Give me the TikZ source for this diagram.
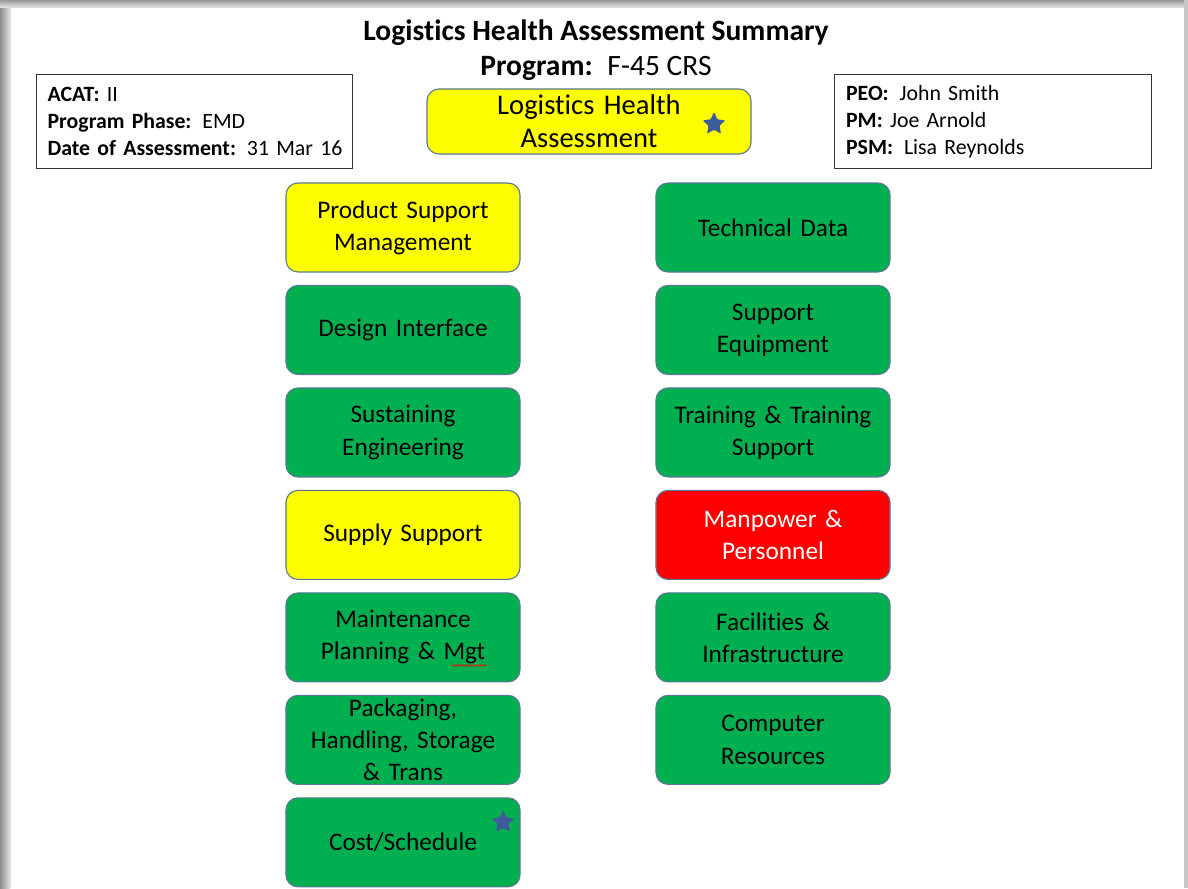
\documentclass[tikz,border=0pt]{standalone}
\usepackage{fontspec}
\setmainfont{Carlito}[Ligatures = {NoCommon, NoContextual, NoRequired}]
\usetikzlibrary{positioning,shapes.geometric,decorations.pathmorphing}

\definecolor{lhagreen}{RGB}{0,176,80}
\definecolor{lhayellow}{RGB}{255,255,0}
\definecolor{lhared}{RGB}{255,0,0}
\definecolor{lhaedge}{HTML}{5A7896}
\definecolor{lhastar}{HTML}{3D5A9A}

\begin{document}
\begin{tikzpicture}[
  x = 0.025cm, y = -0.025cm,
  node distance = 0.308cm,
  element/.style = {draw = lhaedge, line width = 0.8pt, rounded corners = 0.3cm,
                    minimum width = 5.85cm, minimum height = 2.225cm,
                    text width = 5.6cm, align = center, inner xsep = 0.1cm,
                    inner ysep = 0pt, font = \fontsize{18}{22.8}\selectfont},
  okbox/.style = {element, fill = lhagreen},
  warnbox/.style = {element, fill = lhayellow},
  failbox/.style = {element, fill = lhared, text = white},
  infobox/.style = {draw = black!80, line width = 0.9pt, anchor = north west,
                    minimum height = 2.35cm, text width = 7.35cm, align = left,
                    inner xsep = 0.275cm, inner ysep = 0pt,
                    font = \fontsize{15.5}{19.2}\selectfont},
  starmark/.style = {star, star points = 5, star point ratio = 2.1,
                     minimum size = 0.6cm, inner sep = 0pt, fill = lhastar,
                     rounded corners = 0.8pt},
  squiggle/.style = {red, line width = 0.5pt,
                     decorate, decoration = {snake, amplitude = 0.6pt, segment length = 2.5pt}}
  ]
  \useasboundingbox (0,0) rectangle (1188,888);

  %page and its shadow
  \shade[left color = black!45, right color = black!12] (0,0) rectangle (10,888);
  \shade[top color = black!40, bottom color = black!12] (0,0) rectangle (1188,7);
  \fill[black!22] (1184,0) rectangle (1188,888);
  \fill[white] (10,7) rectangle (1184,888);
  \draw[black!15, line width = 0.5pt] (10.5,888) -- (10.5,7.5) -- (1184,7.5);

  %heading
  \node[font = \fontsize{21}{24.8}\selectfont, align = center] (title) at (596,50.5)
    {\textbf{Logistics Health Assessment Summary}\\
     \textbf{Program:}\enspace F-45 CRS};

  \node[infobox, minimum width = 7.9cm] (acat) at (36,74)
    {\textbf{ACAT:} II\\
     \textbf{Program Phase:}\enspace EMD\\
     \mbox{\textbf{Date of Assessment:} 31 Mar 16}};

  \node[infobox, minimum width = 7.925cm] (peo) at (834,74)
    {\textbf{PEO:}\enspace John Smith\\
     \textbf{PM:} Joe Arnold\\
     \textbf{PSM:}\enspace Lisa Reynolds};

  \node[warnbox, minimum width = 8.1cm, minimum height = 1.625cm,
        text width = 7.8cm, font = \fontsize{20.3}{23.4}\selectfont]
    (lha) at (589,121.5) {Logistics Health\\Assessment};
  \node[starmark] (lhastar) at (714,124) {};

  %left column
  \node[warnbox] (psm) at (403,227.5) {Product Support\\Management};
  \node[okbox, below = of psm] (di) {Design Interface};
  \node[okbox, below = of di] (sen) {Sustaining\\Engineering};
  \node[warnbox, below = of sen] (ss) {Supply Support};
  \node[okbox, below = of ss] (mpm) {Maintenance\\Planning \& Mgt};
  \node[okbox, below = of mpm] (phst) {Packaging,\\Handling, Storage\\\& Trans};
  \node[okbox, below = of phst] (cs) {Cost/Schedule};
  \node[starmark] (csstar) at (503,822) {};

  \draw[squiggle] ([xshift = 1.22cm, yshift = -0.7cm]mpm.center) -- ++(35,0);

  %right column
  \node[okbox] (td) at (773,227.5) {Technical Data};
  \node[okbox, below = of td] (se) {Support\\Equipment};
  \node[okbox, below = of se] (tts) {Training \& Training\\Support};
  \node[failbox, below = of tts] (mp) {Manpower \&\\Personnel};
  \node[okbox, below = of mp] (fi) {Facilities \&\\Infrastructure};
  \node[okbox, below = of fi] (cr) {Computer\\Resources};
\end{tikzpicture}
\end{document}
